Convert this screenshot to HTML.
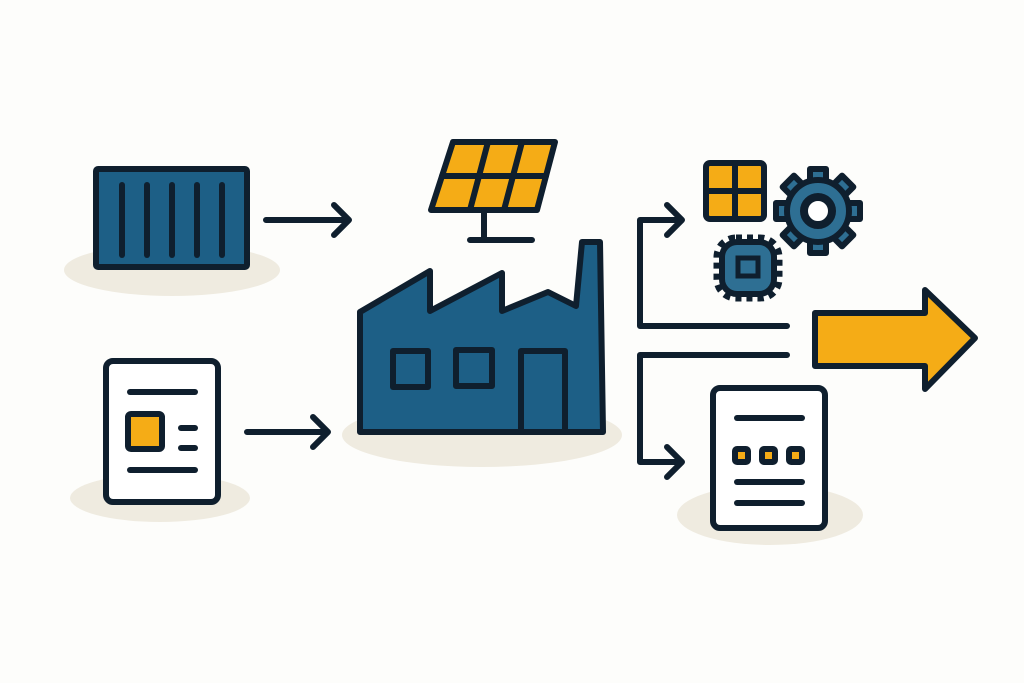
<!DOCTYPE html>
<html><head><meta charset="utf-8"><style>html,body{margin:0;padding:0;background:#fdfdfb}svg{display:block}</style></head>
<body>
<svg width="1024" height="683" viewBox="0 0 1024 683" xmlns="http://www.w3.org/2000/svg">
<rect width="1024" height="683" fill="#fdfdfb"/>
<g fill="#efebe0">
<ellipse cx="172" cy="270" rx="108" ry="26"/>
<ellipse cx="160" cy="498" rx="90" ry="24"/>
<ellipse cx="482" cy="435" rx="140" ry="32"/>
<ellipse cx="770" cy="515" rx="93" ry="30"/>
</g>
<g stroke="#0f1f2e" stroke-width="6" stroke-linecap="round" stroke-linejoin="round" fill="none">
<rect x="96" y="169" width="151" height="98" fill="#1d5f86" rx="2"/>
<line x1="122" y1="185" x2="122" y2="255"/><line x1="147" y1="185" x2="147" y2="255"/><line x1="172" y1="185" x2="172" y2="255"/><line x1="197" y1="185" x2="197" y2="255"/><line x1="222" y1="185" x2="222" y2="255"/>
<path d="M266 220 H348 M334 205 L349 220 L334 235"/>
<path d="M247 432 H327 M313 417 L328 432 L313 447"/>
<rect x="106" y="361" width="112" height="141" rx="7" fill="#fff"/>
<line x1="130" y1="392" x2="195" y2="392"/>
<rect x="128" y="414" width="34" height="35" rx="3" fill="#f5ac16"/>
<line x1="181" y1="428" x2="195" y2="428"/><line x1="181" y1="448" x2="195" y2="448"/>
<line x1="130" y1="470" x2="195" y2="470"/>
<path d="M453 142 H555 L537 210 H431 Z" fill="#f5ac16"/>
<path d="M442 176 H546"/>
<path d="M488 142 L470 210 M522 142 L504 210"/>
<path d="M484 210 V240 M470 240 H532"/>
<path d="M360 312 L430 271 V311 L502 273 V311 L548 292 L576 306 L582 242 H600 L603 432 H360 Z" fill="#1d5f86"/>
<rect x="393" y="351" width="35" height="36"/>
<rect x="456" y="350" width="36" height="36"/>
<path d="M521 432 V351 H565 V432"/>
<path d="M787 326 H640 V220 H680 M667 205 L682 220 L667 235"/>
<path d="M787 355 H640 V462 H680 M667 447 L682 462 L667 477"/>
<path d="M815 313 H925 V290 L975 338 L925 389 V366 H815 Z" fill="#f5ac16"/>
<rect x="713" y="388" width="112" height="140" rx="7" fill="#fff"/>
<line x1="737" y1="418" x2="802" y2="418"/>
<rect x="735" y="449" width="13" height="13" rx="2" fill="#f5ac16"/>
<rect x="762" y="449" width="13" height="13" rx="2" fill="#f5ac16"/>
<rect x="789" y="449" width="13" height="13" rx="2" fill="#f5ac16"/>
<line x1="737" y1="482" x2="802" y2="482"/>
<line x1="737" y1="503" x2="802" y2="503"/>
<rect x="706" y="163" width="58" height="56" rx="4" fill="#f5ac16"/>
<path d="M735 163 V219 M706 191 H764"/>
</g>
<g transform="translate(818,211)" stroke="#0f1f2e" stroke-width="6" stroke-linejoin="round" fill="#2e6f93">
<g>
<rect x="-8" y="-42" width="16" height="16"/>
<rect x="-8" y="-42" width="16" height="16" transform="rotate(45)"/>
<rect x="-8" y="-42" width="16" height="16" transform="rotate(90)"/>
<rect x="-8" y="-42" width="16" height="16" transform="rotate(135)"/>
<rect x="-8" y="-42" width="16" height="16" transform="rotate(180)"/>
<rect x="-8" y="-42" width="16" height="16" transform="rotate(225)"/>
<rect x="-8" y="-42" width="16" height="16" transform="rotate(270)"/>
<rect x="-8" y="-42" width="16" height="16" transform="rotate(315)"/>
</g>
<circle r="31"/>
<circle r="14" fill="#fff" stroke-width="8"/>
</g>
<g stroke="#0f1f2e" fill="#2e6f93">
<rect x="718" y="239" width="60" height="58" rx="18" fill="none" stroke-width="9" stroke-dasharray="6 5"/>
<rect x="722" y="242" width="52" height="52" rx="15" stroke-width="6"/>
<rect x="738" y="258" width="20" height="18" fill="none" stroke-width="5"/>
</g>
</svg>
</body></html>
